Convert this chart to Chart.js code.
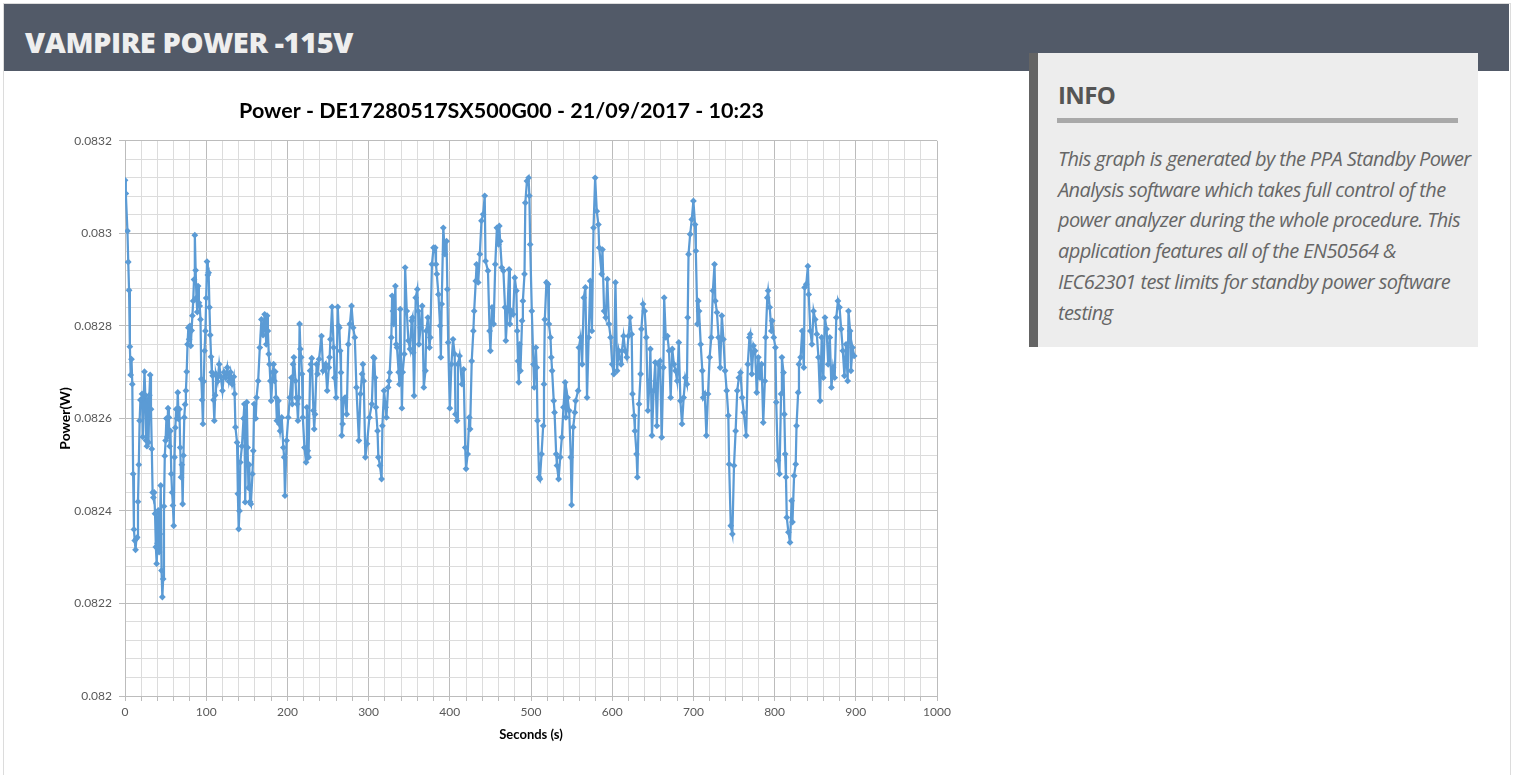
<!DOCTYPE html>
<html>
<head>
<meta charset="utf-8">
<script src="https://cdn.jsdelivr.net/npm/chart.js@4.4.0/dist/chart.umd.min.js"></script>
<style>
  body { margin: 0; background: #fff; font-family: 'Open Sans', sans-serif; }
  .page { position: absolute; left: 3px; top: 3px; width: 1506px; height: 772px; border: 1px solid #dcdcdc; }
  .bar { position: absolute; left: 4px; top: 4px; width: 1505px; height: 67px; background: #525a68; }
  .bar h1 { position: absolute; left: 21px; top: 4px; margin: 0; font: 800 29px/67px 'Open Sans', sans-serif; color: #eeeeee; letter-spacing: -0.4px; }
  .info { position: absolute; left: 1029px; top: 53px; width: 440px; height: 294px; background: #ededed; border-left: 9px solid #646464; }
  .info h2 { position: absolute; left: 20px; top: 24px; margin: 0; font: 700 24px/36px 'Open Sans', sans-serif; color: #555; letter-spacing: -0.6px; }
  .info .rule { position: absolute; left: 19px; top: 65px; width: 401px; height: 5px; background: #a9a9a9; }
  .info p { position: absolute; left: 20px; top: 91px; margin: 0; font: italic 400 20px/30.7px 'Open Sans', sans-serif; color: #666; letter-spacing: -0.6px; white-space: nowrap; }
  #wrap { position: absolute; left: 40px; top: 88px; width: 923px; height: 662px; }
</style>
</head>
<body>
<div class="page"></div>
<div class="bar"><h1>VAMPIRE POWER -115V</h1></div>
<div class="info">
  <h2>INFO</h2>
  <div class="rule"></div>
  <p>This graph is generated by the PPA Standby Power<br>Analysis software which takes full control of the<br>power analyzer during the whole procedure. This<br>application features all of the EN50564 &amp;<br>IEC62301 test limits for standby power software<br>testing</p>
</div>
<div id="wrap"><canvas id="powerChart" width="923" height="662"></canvas></div>
<script>
const chartTitle = 'Power - DE17280517SX500G00 - 21/09/2017 - 10:23';

const seconds = [
  0, 1, 3, 4, 5, 6, 7, 8, 9, 10,
  11, 12, 13, 14, 15, 16, 17, 18, 19, 20,
  21, 22, 23, 24, 25, 26, 27, 28, 29, 30,
  31, 32, 33, 34, 35, 36, 37, 38, 39, 40,
  41, 42, 43, 44, 45, 46, 47, 48, 49, 50,
  51, 52, 53, 54, 55, 56, 57, 58, 59, 60,
  61, 62, 63, 64, 65, 66, 67, 68, 69, 70,
  71, 72, 73, 74, 75, 76, 77, 78, 79, 80,
  81, 82, 83, 84, 85, 86, 87, 88, 89, 90,
  91, 92, 93, 94, 95, 96, 97, 98, 99, 100,
  101, 102, 103, 104, 105, 106, 107, 108, 109, 110,
  111, 112, 114, 116, 118, 120, 122, 124, 126, 128,
  130, 132, 134, 135, 136, 138, 139, 140, 141, 142,
  144, 146, 147, 148, 150, 151, 152, 153, 154, 155,
  157, 158, 159, 161, 162, 164, 166, 168, 170, 172,
  174, 175, 176, 177, 178, 179, 180, 182, 183, 184,
  185, 186, 187, 189, 190, 191, 193, 195, 196, 197,
  199, 201, 203, 205, 206, 207, 208, 210, 211, 212,
  213, 214, 215, 216, 217, 218, 219, 221, 223, 224,
  225, 226, 228, 229, 230, 232, 233, 234, 236, 237,
  239, 242, 244, 247, 249, 251, 252, 253, 255, 257,
  258, 260, 262, 263, 264, 265, 266, 267, 268, 269,
  271, 273, 275, 277, 279, 281, 283, 285, 288, 290,
  292, 293, 294, 296, 298, 301, 304, 306, 307, 308,
  309, 311, 312, 314, 316, 317, 319, 321, 322, 324,
  325, 326, 328, 329, 330, 331, 333, 334, 335, 337,
  338, 339, 341, 342, 344, 345, 347, 349, 351, 353,
  354, 355, 356, 358, 360, 361, 362, 364, 366, 368,
  370, 371, 373, 375, 376, 378, 380, 382, 383, 384,
  386, 388, 389, 390, 392, 394, 396, 397, 398, 400,
  402, 404, 406, 407, 409, 410, 412, 415, 417, 419,
  420, 422, 424, 425, 427, 429, 430, 432, 433, 435,
  437, 439, 441, 443, 444, 447, 449, 450, 452, 454,
  456, 458, 460, 461, 462, 464, 466, 468, 469, 471,
  473, 474, 476, 478, 480, 482, 483, 484, 485, 486,
  487, 489, 490, 492, 493, 495, 497, 498, 499, 501,
  503, 504, 506, 507, 508, 510, 511, 513, 515, 516,
  517, 519, 521, 522, 524, 525, 526, 528, 529, 531,
  532, 534, 536, 538, 540, 542, 543, 545, 547, 549,
  550, 552, 554, 555, 558, 559, 561, 563, 565, 567,
  569, 571, 573, 575, 577, 579, 581, 583, 584, 587,
  588, 590, 592, 594, 596, 598, 600, 602, 604, 606,
  608, 611, 612, 614, 616, 618, 620, 622, 624, 625,
  627, 628, 630, 631, 633, 635, 636, 638, 640, 642,
  644, 646, 647, 649, 651, 653, 655, 657, 659, 661,
  663, 664, 666, 668, 670, 672, 674, 676, 678, 680,
  682, 684, 686, 688, 690, 692, 693, 694, 696, 698,
  700, 702, 703, 705, 706, 707, 709, 711, 712, 714,
  716, 718, 720, 722, 724, 726, 727, 729, 731, 733,
  735, 737, 739, 741, 743, 744, 746, 748, 750, 752,
  754, 756, 758, 760, 762, 765, 767, 769, 770, 772,
  774, 776, 778, 780, 782, 784, 786, 788, 789, 791,
  792, 794, 796, 797, 799, 801, 802, 804, 806, 808,
  809, 811, 812, 813, 814, 815, 817, 819, 821, 822,
  824, 826, 827, 829, 830, 832, 834, 836, 837, 839,
  841, 842, 844, 846, 848, 850, 852, 854, 856, 858,
  860, 862, 864, 866, 868, 870, 872, 874, 876, 878,
  880, 882, 884, 886, 888, 890, 891, 893, 894, 896,
  898
];

const power = [
  0.083115, 0.083086, 0.083005, 0.082938, 0.082877, 0.082755, 0.082694, 0.082728, 0.082674, 0.082480,
  0.082360, 0.082336, 0.082316, 0.082340, 0.082343, 0.082420, 0.082500, 0.082595, 0.082640, 0.082640,
  0.082653, 0.082560, 0.082645, 0.082701, 0.082650, 0.082552, 0.082540, 0.082640, 0.082548, 0.082650,
  0.082694, 0.082620, 0.082534, 0.082440, 0.082429, 0.082440, 0.082394, 0.082322, 0.082286, 0.082330,
  0.082401, 0.082311, 0.082350, 0.082455, 0.082271, 0.082214, 0.082253, 0.082410, 0.082519, 0.082552,
  0.082600, 0.082560, 0.082622, 0.082602, 0.082540, 0.082573, 0.082480, 0.082440, 0.082412, 0.082368,
  0.082516, 0.082580, 0.082620, 0.082600, 0.082656, 0.082599, 0.082620, 0.082537, 0.082473, 0.082500,
  0.082415, 0.082520, 0.082602, 0.082630, 0.082660, 0.082701, 0.082760, 0.082796, 0.082771, 0.082800,
  0.082757, 0.082790, 0.082822, 0.082854, 0.082900, 0.082996, 0.082920, 0.082861, 0.082830, 0.082886,
  0.082850, 0.082843, 0.082814, 0.082685, 0.082640, 0.082588, 0.082680, 0.082746, 0.082789, 0.082860,
  0.082939, 0.082910, 0.082915, 0.082840, 0.082780, 0.082733, 0.082700, 0.082692, 0.082640, 0.082595,
  0.082650, 0.082696, 0.082680, 0.082717, 0.082690, 0.082660, 0.082700, 0.082688, 0.082710, 0.082680,
  0.082700, 0.082674, 0.082690, 0.082653, 0.082581, 0.082548, 0.082437, 0.082361, 0.082400, 0.082505,
  0.082540, 0.082600, 0.082631, 0.082419, 0.082635, 0.082537, 0.082450, 0.082500, 0.082420, 0.082415,
  0.082480, 0.082530, 0.082631, 0.082600, 0.082645, 0.082681, 0.082753, 0.082814, 0.082780, 0.082825,
  0.082760, 0.082822, 0.082789, 0.082739, 0.082717, 0.082681, 0.082638, 0.082700, 0.082717, 0.082681,
  0.082701, 0.082645, 0.082595, 0.082638, 0.082588, 0.082573, 0.082602, 0.082537, 0.082516, 0.082433,
  0.082552, 0.082602, 0.082645, 0.082688, 0.082631, 0.082717, 0.082732, 0.082681, 0.082645, 0.082631,
  0.082595, 0.082645, 0.082804, 0.082750, 0.082732, 0.082696, 0.082602, 0.082537, 0.082505, 0.082624,
  0.082530, 0.082516, 0.082703, 0.082717, 0.082730, 0.082617, 0.082577, 0.082609, 0.082717, 0.082696,
  0.082728, 0.082778, 0.082703, 0.082717, 0.082660, 0.082710, 0.082732, 0.082771, 0.082841, 0.082753,
  0.082688, 0.082645, 0.082841, 0.082800, 0.082796, 0.082746, 0.082699, 0.082563, 0.082588, 0.082640,
  0.082645, 0.082609, 0.082760, 0.082804, 0.082843, 0.082796, 0.082775, 0.082667, 0.082552, 0.082653,
  0.082696, 0.082717, 0.082681, 0.082516, 0.082545, 0.082602, 0.082631, 0.082732, 0.082730, 0.082688,
  0.082624, 0.082573, 0.082516, 0.082498, 0.082469, 0.082584, 0.082660, 0.082624, 0.082602, 0.082667,
  0.082681, 0.082699, 0.082775, 0.082865, 0.082832, 0.082804, 0.082886, 0.082760, 0.082753, 0.082700,
  0.082674, 0.082836, 0.082622, 0.082700, 0.082739, 0.082926, 0.082832, 0.082768, 0.082750, 0.082811,
  0.082818, 0.082742, 0.082649, 0.082861, 0.082879, 0.082832, 0.082760, 0.082796, 0.082843, 0.082667,
  0.082703, 0.082789, 0.082818, 0.082753, 0.082775, 0.082933, 0.082969, 0.082969, 0.082933, 0.082912,
  0.082868, 0.082800, 0.082732, 0.082847, 0.083012, 0.082955, 0.082983, 0.082879, 0.082764, 0.082622,
  0.082717, 0.082771, 0.082739, 0.082609, 0.082595, 0.082717, 0.082735, 0.082674, 0.082706, 0.082537,
  0.082491, 0.082523, 0.082602, 0.082577, 0.082724, 0.082789, 0.082832, 0.082897, 0.082933, 0.082894,
  0.082955, 0.083027, 0.083041, 0.083081, 0.082940, 0.082919, 0.082789, 0.082746, 0.082840, 0.082804,
  0.082933, 0.083012, 0.082976, 0.083016, 0.082983, 0.082926, 0.082919, 0.082840, 0.082768, 0.082832,
  0.082922, 0.082804, 0.082832, 0.082825, 0.082904, 0.082876, 0.082789, 0.082724, 0.082678, 0.082760,
  0.082703, 0.082811, 0.082854, 0.082912, 0.083066, 0.083113, 0.083120, 0.083081, 0.082976, 0.082832,
  0.082717, 0.082667, 0.082753, 0.082710, 0.082595, 0.082473, 0.082469, 0.082523, 0.082584, 0.082674,
  0.082814, 0.082894, 0.082890, 0.082804, 0.082775, 0.082732, 0.082703, 0.082638, 0.082613, 0.082523,
  0.082498, 0.082469, 0.082516, 0.082559, 0.082624, 0.082678, 0.082602, 0.082645, 0.082617, 0.082516,
  0.082413, 0.082581, 0.082613, 0.082638, 0.082660, 0.082753, 0.082775, 0.082717, 0.082861, 0.082883,
  0.082645, 0.082775, 0.082897, 0.082789, 0.083012, 0.083120, 0.083048, 0.083019, 0.082969, 0.082912,
  0.082965, 0.082832, 0.082818, 0.082901, 0.082804, 0.082775, 0.082717, 0.082696, 0.082894, 0.082703,
  0.082746, 0.082717, 0.082746, 0.082778, 0.082746, 0.082732, 0.082778, 0.082818, 0.082782, 0.082653,
  0.082606, 0.082573, 0.082523, 0.082473, 0.082631, 0.082696, 0.082793, 0.082847, 0.082832, 0.082775,
  0.082617, 0.082681, 0.082750, 0.082563, 0.082660, 0.082721, 0.082584, 0.082717, 0.082724, 0.082559,
  0.082710, 0.082861, 0.082775, 0.082778, 0.082746, 0.082645, 0.082750, 0.082717, 0.082703, 0.082681,
  0.082764, 0.082638, 0.082588, 0.082645, 0.082688, 0.082674, 0.082818, 0.082955, 0.082998, 0.083030,
  0.083070, 0.083019, 0.082962, 0.082804, 0.082854, 0.082832, 0.082760, 0.082703, 0.082645, 0.082653,
  0.082563, 0.082653, 0.082732, 0.082775, 0.082876, 0.082933, 0.082854, 0.082829, 0.082775, 0.082710,
  0.082822, 0.082771, 0.082703, 0.082660, 0.082606, 0.082501, 0.082368, 0.082350, 0.082498, 0.082573,
  0.082660, 0.082688, 0.082699, 0.082645, 0.082613, 0.082563, 0.082717, 0.082775, 0.082782, 0.082696,
  0.082757, 0.082746, 0.082656, 0.082732, 0.082688, 0.082717, 0.082591, 0.082681, 0.082775, 0.082861,
  0.082876, 0.082840, 0.082789, 0.082811, 0.082775, 0.082753, 0.082635, 0.082509, 0.082480, 0.082653,
  0.082732, 0.082699, 0.082609, 0.082523, 0.082473, 0.082386, 0.082354, 0.082332, 0.082422, 0.082376,
  0.082476, 0.082501, 0.082584, 0.082656, 0.082717, 0.082732, 0.082789, 0.082710, 0.082883, 0.082890,
  0.082929, 0.082868, 0.082789, 0.082760, 0.082832, 0.082814, 0.082782, 0.082732, 0.082638, 0.082775,
  0.082688, 0.082818, 0.082793, 0.082717, 0.082775, 0.082667, 0.082710, 0.082688, 0.082818, 0.082854,
  0.082840, 0.082793, 0.082746, 0.082692, 0.082760, 0.082681, 0.082832, 0.082789, 0.082703, 0.082753,
  0.082735
];

const yTicks = [0.082, 0.0822, 0.0824, 0.0826, 0.0828, 0.083, 0.0832];
const xTicks = [0, 100, 200, 300, 400, 500, 600, 700, 800, 900, 1000];

const points = seconds.map((s, i) => ({ x: s, y: power[i] }));

function isYMajor(v) {
  return yTicks.some(t => Math.abs(t - v) < 0.000001);
}
function isXMajor(v) {
  return xTicks.some(t => Math.abs(t - v) < 0.01);
}

const ctx = document.getElementById('powerChart').getContext('2d');
new Chart(ctx, {
  type: 'scatter',
  data: {
    datasets: [{
      label: 'Power',
      data: points,
      showLine: true,
      borderColor: '#5b9bd5',
      borderWidth: 2.25,
      pointStyle: 'rectRot',
      pointRadius: 3.4,
      pointBackgroundColor: '#5b9bd5',
      pointBorderWidth: 0,
      tension: 0
    }]
  },
  options: {
    responsive: false,
    animation: false,
    layout: { padding: 0 },
    plugins: {
      legend: { display: false },
      tooltip: { enabled: false },
      title: {
        display: true,
        text: chartTitle,
        color: '#000',
        font: { family: 'Lato', size: 21.5, weight: 'bold' },
        padding: { top: 10, bottom: 17 }
      }
    },
    scales: {
      x: {
        type: 'linear',
        min: 0,
        max: 1000,
        ticks: {
          stepSize: 20,
          autoSkip: false,
          maxRotation: 0,
          color: '#595959',
          font: { family: 'Lato', size: 12 },
          padding: 4,
          callback: v => isXMajor(v) ? v : ''
        },
        grid: {
          color: c => isXMajor(c.tick.value) ? '#bcbcbc' : '#dcdcdc',
          tickColor: '#bcbcbc',
          tickLength: 5
        },
        border: { color: '#bcbcbc' },
        title: {
          display: true,
          text: 'Seconds (s)',
          color: '#000',
          font: { family: 'Lato', size: 13, weight: 'bold' },
          padding: { top: 2, bottom: 7 }
        },
        afterFit: s => { s.height = 54; s.paddingRight = 26; }
      },
      y: {
        type: 'linear',
        min: 0.082,
        max: 0.0832,
        ticks: {
          stepSize: 0.00004,
          autoSkip: false,
          color: '#595959',
          font: { family: 'Lato', size: 12 },
          padding: 7,
          callback: v => isYMajor(v) ? String(parseFloat(v.toFixed(4))) : ''
        },
        grid: {
          color: c => isYMajor(c.tick.value) ? '#bcbcbc' : '#dcdcdc',
          tickColor: c => isYMajor(c.tick.value) ? '#bcbcbc' : 'rgba(0,0,0,0)',
          tickLength: 6
        },
        border: { color: '#bcbcbc' },
        title: {
          display: true,
          text: 'Power(W)',
          color: '#000',
          font: { family: 'Lato', size: 14, weight: 'bold' },
          padding: { top: 17, bottom: 0 }
        },
        afterFit: s => { s.width = 85; }
      }
    }
  }
});
</script>
</body>
</html>
